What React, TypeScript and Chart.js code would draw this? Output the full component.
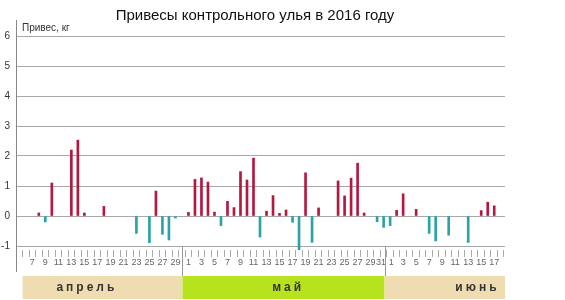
import React, { useEffect, useRef } from 'react';
import { Chart, registerables } from 'chart.js';

Chart.register(...registerables);

const TITLE = 'Привесы контрольного улья в 2016 году';
const Y_LABEL = 'Привес, кг';
const MONTHS = ['апрель', 'май', 'июнь'];
const MONTH_OFFSETS = [0, 30, 61]; // day index of day 0 of each month (April 1 = 1)

const APRIL_DAYS = [8, 9, 10, 13, 14, 15, 18, 23, 25, 26, 27, 28, 29];
const APRIL_GAINS = [0.1, -0.2, 1.1, 2.2, 2.53, 0.1, 0.32, -0.58, -0.89, 0.83, -0.61, -0.8, -0.07];

const MAY_DAYS = [1, 2, 3, 4, 5, 6, 7, 8, 9, 10, 11, 12, 13, 14, 15, 16, 17, 18, 19, 20, 21, 24, 25, 26, 27, 28, 30, 31];
const MAY_GAINS = [0.12, 1.22, 1.27, 1.13, 0.13, -0.32, 0.49, 0.28, 1.48, 1.2, 1.93, -0.7, 0.16, 0.68, 0.09, 0.2, -0.21, -1.25, 1.44, -0.88, 0.27, 1.17, 0.67, 1.26, 1.76, 0.1, -0.19, -0.38];

const JUNE_DAYS = [1, 2, 3, 5, 7, 8, 10, 13, 15, 16, 17];
const JUNE_GAINS = [-0.32, 0.19, 0.74, 0.22, -0.58, -0.83, -0.64, -0.88, 0.18, 0.46, 0.34];

const Y_TICKS = [-1, 0, 1, 2, 3, 4, 5, 6];
const FIRST_TICK_INDEX = 6; // April 6
const LAST_TICK_INDEX = 79; // June 18

const POS_COLOR = '#b3183f';
const NEG_COLOR = '#2aa3a8';
const BAND_TAN = '#efdcb0';
const BAND_GREEN = '#b6e31e';
const FONT = '"Liberation Sans", Arial, sans-serif';

function dayOfMonth(index: number): number {
  if (index > MONTH_OFFSETS[2]) return index - MONTH_OFFSETS[2];
  if (index > MONTH_OFFSETS[1]) return index - MONTH_OFFSETS[1];
  return index;
}

function buildPoints() {
  const pts: { x: number; y: number }[] = [];
  const sets: [number[], number[]][] = [
    [APRIL_DAYS, APRIL_GAINS],
    [MAY_DAYS, MAY_GAINS],
    [JUNE_DAYS, JUNE_GAINS],
  ];
  sets.forEach(([days, gains], m) => {
    days.forEach((d, i) => pts.push({ x: MONTH_OFFSETS[m] + d, y: gains[i] }));
  });
  return pts;
}

function drawSpaced(ctx: CanvasRenderingContext2D, text: string, cx: number, cy: number, spacing: number) {
  const chars = Array.from(text);
  const widths = chars.map((c) => ctx.measureText(c).width);
  const total = widths.reduce((a, b) => a + b, 0) + spacing * (chars.length - 1);
  let x = cx - total / 2;
  ctx.textAlign = 'left';
  chars.forEach((c, i) => {
    ctx.fillText(c, x, cy);
    x += widths[i] + spacing;
  });
}

const decorPlugin = {
  id: 'decor',
  afterDraw(chart: any) {
    const { ctx, chartArea } = chart;
    const x = chart.scales.x;
    const y = chart.scales.y;
    ctx.save();

    // title
    ctx.fillStyle = '#111';
    ctx.font = `15px ${FONT}`;
    ctx.textAlign = 'center';
    ctx.textBaseline = 'middle';
    ctx.fillText(TITLE, 255, 16);

    // y-axis label
    ctx.fillStyle = '#333';
    ctx.font = `10px ${FONT}`;
    ctx.textAlign = 'left';
    ctx.fillText(Y_LABEL, 22, 28);

    // y-axis extension below plot
    ctx.strokeStyle = '#888';
    ctx.lineWidth = 1;
    ctx.beginPath();
    ctx.moveTo(Math.round(chartArea.left) + 0.5, chartArea.bottom);
    ctx.lineTo(Math.round(chartArea.left) + 0.5, 272);
    ctx.stroke();

    // month bands
    const b1 = x.getPixelForValue(MONTH_OFFSETS[1] + 0.08);
    const b2 = x.getPixelForValue(MONTH_OFFSETS[2] + 0.15);
    const bandStart = x.getPixelForValue(5.5);
    const bandEnd = chartArea.right;
    const bandTop = 276;
    const bandBottom = 299;
    ctx.fillStyle = BAND_TAN;
    ctx.fillRect(bandStart, bandTop, b1 - bandStart, bandBottom - bandTop);
    ctx.fillStyle = BAND_GREEN;
    ctx.fillRect(b1, bandTop, b2 - b1, bandBottom - bandTop);
    ctx.fillStyle = BAND_TAN;
    ctx.fillRect(b2, bandTop, bandEnd - b2, bandBottom - bandTop);

    // separators
    const yTop = y.getPixelForValue(-1);
    ctx.strokeStyle = '#999';
    [b1, b2].forEach((bx) => {
      ctx.beginPath();
      ctx.moveTo(Math.round(bx) + 0.5, yTop);
      ctx.lineTo(Math.round(bx) + 0.5, bandTop);
      ctx.stroke();
    });

    // month labels
    ctx.fillStyle = '#333';
    ctx.font = `bold 12px ${FONT}`;
    ctx.textBaseline = 'middle';
    const labelCenters = [15.16, 46.09, 75.2];
    MONTHS.forEach((m, i) => {
      drawSpaced(ctx, m, x.getPixelForValue(labelCenters[i]), 287.5, 3);
    });

    ctx.restore();
  },
};

export default function App() {
  const ref = useRef<HTMLCanvasElement | null>(null);

  useEffect(() => {
    if (!ref.current) return;
    const points = buildPoints();
    const chart = new Chart(ref.current, {
      type: 'bar',
      data: {
        datasets: [
          {
            data: points as any,
            backgroundColor: points.map((p) => (p.y >= 0 ? POS_COLOR : NEG_COLOR)),
            barThickness: 2,
            borderWidth: 0,
          },
        ],
      },
      options: {
        responsive: false,
        animation: false,
        devicePixelRatio: 1,
        layout: { padding: { left: 0, right: 60, top: 20, bottom: 0 } },
        plugins: {
          legend: { display: false },
          title: { display: false },
          tooltip: { enabled: false },
        },
        scales: {
          x: {
            type: 'linear',
            min: 5,
            max: 79.15,
            afterFit: (scale: any) => {
              scale.height = 50;
            },
            afterBuildTicks: (scale: any) => {
              const t = [];
              for (let i = FIRST_TICK_INDEX; i <= LAST_TICK_INDEX; i++) t.push({ value: i });
              scale.ticks = t;
            },
            grid: {
              drawOnChartArea: false,
              drawTicks: true,
              tickLength: 7,
              color: '#aaa',
            },
            border: { display: false },
            ticks: {
              autoSkip: false,
              maxRotation: 0,
              minRotation: 0,
              padding: 0,
              color: '#666',
              font: { size: 9, family: FONT },
              callback: (v: any) => {
                const idx = Number(v);
                const d = dayOfMonth(idx);
                if (idx < 7 || d % 2 === 0) return '';
                // nudge the crowded month-end / month-start pair apart
                if (idx === MONTH_OFFSETS[2]) return String(d) + '  ';
                if (idx === MONTH_OFFSETS[2] + 1) return ' ' + String(d);
                return String(d);
              },
            },
          },
          y: {
            min: -1 - 4 / 30,
            max: 6 + 16 / 30,
            afterFit: (scale: any) => {
              scale.width = 16;
            },
            afterBuildTicks: (scale: any) => {
              scale.ticks = Y_TICKS.map((v) => ({ value: v }));
            },
            grid: {
              drawTicks: false,
              color: '#a8a8a8',
            },
            border: { display: true, color: '#888' },
            ticks: {
              padding: 6,
              color: '#333',
              font: { size: 10, family: FONT },
            },
          },
        },
      },
      plugins: [decorPlugin],
    });
    return () => chart.destroy();
  }, []);

  return (
    <div style={{ position: 'fixed', left: 0, top: 0, width: 565, height: 300, background: '#fff' }}>
      <canvas ref={ref} width={565} height={300} style={{ width: 565, height: 300 }} />
    </div>
  );
}
